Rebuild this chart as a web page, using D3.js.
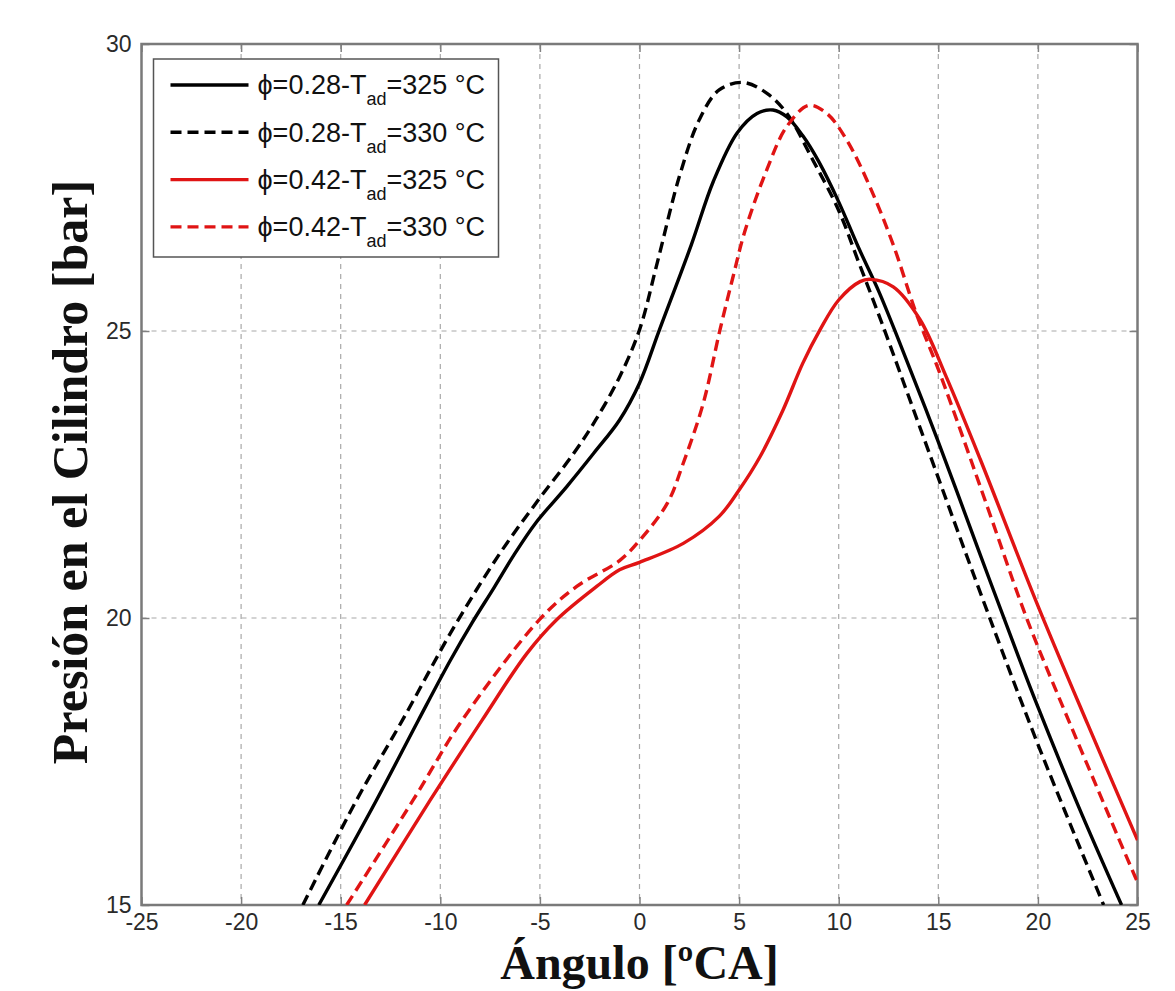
<!DOCTYPE html>
<html>
<head>
<meta charset="utf-8">
<script src="https://cdn.jsdelivr.net/npm/d3@7"></script>
<style>
  body { margin: 0; background: #fff; }
  svg { display: block; }
</style>
</head>
<body>
<div id="chart"></div>
<script>
// valores: ángulo [ºCA] -> presión [bar]
const phi028_T325 = [
  [-16.1, 15.0], [-13.2, 16.83], [-11.1, 18.22], [-9.5, 19.26], [-8.4, 19.92],
  [-7.3, 20.53], [-6.3, 21.1], [-5.2, 21.66], [-3.65, 22.29], [-2.3, 22.87],
  [-1.0, 23.45], [0, 24.09], [1.0, 25.02], [2.6, 26.5], [3.7, 27.6],
  [4.9, 28.45], [5.9, 28.79], [6.7, 28.85], [7.4, 28.73], [8.2, 28.4],
  [9.0, 27.95], [10.0, 27.25], [11.0, 26.45], [12.0, 25.7], [13.0, 24.85],
  [15.0, 23.07], [17.0, 21.2], [18.9, 19.44], [20.0, 18.45], [22.0, 16.75],
  [24.2, 15.0]
];
const phi028_T330 = [
  [-16.9, 15.0], [-14.2, 16.83], [-11.9, 18.22], [-9.3, 19.85], [-7.0, 21.13],
  [-5.2, 22.0], [-3.3, 22.87], [-2.2, 23.45], [-1.0, 24.2], [0, 25.02],
  [0.9, 26.2], [2.0, 27.69], [3.0, 28.68], [4.0, 29.2], [5.2, 29.33],
  [6.4, 29.14], [7.4, 28.79], [8.7, 27.98], [10.0, 27.1], [11.0, 26.2],
  [12.1, 25.2], [14.1, 23.3], [17.25, 20.31], [20.0, 17.8], [23.3, 15.0]
];
const phi042_T325 = [
  [-13.8, 15.0], [-10.5, 16.83], [-7.9, 18.22], [-5.66, 19.38], [-4.16, 19.97],
  [-2.15, 20.55], [-1.0, 20.84], [0, 20.97], [2.2, 21.3], [4.0, 21.77],
  [5.0, 22.23], [6.05, 22.81], [7.2, 23.62], [8.2, 24.44], [9.06, 25.02],
  [10.0, 25.54], [11.07, 25.86], [11.6, 25.9], [12.74, 25.77], [14.08, 25.2],
  [15.4, 24.2], [17.1, 22.77], [19.9, 20.3], [22.5, 18.15], [25.0, 16.13]
];
const phi042_T330 = [
  [-14.7, 15.0], [-11.36, 16.83], [-8.9, 18.22], [-5.0, 19.98], [-3.15, 20.55],
  [-1.0, 21.0], [0, 21.35], [1.4, 22.0], [2.2, 22.7], [3.2, 23.74],
  [4.04, 25.02], [4.7, 25.95], [5.3, 26.75], [6.38, 27.8], [7.39, 28.56],
  [8.5, 28.93], [9.4, 28.79], [10.4, 28.33], [11.57, 27.51], [12.74, 26.5],
  [13.9, 25.3], [15.08, 24.26], [17.5, 21.9], [19.1, 20.31], [20.0, 19.5],
  [24.87, 15.5], [25.0, 15.4]
];

const xTicks = [-25, -20, -15, -10, -5, 0, 5, 10, 15, 20, 25];
const yTicks = [15, 20, 25, 30];

const seriesNames = ['0.28', '0.28', '0.42', '0.42'];
const seriesTemps = ['325', '330', '325', '330'];
const seriesColors = ['#000000', '#000000', '#e01414', '#e01414'];
const seriesDashed = [false, true, false, true];
const seriesData = [phi028_T325, phi028_T330, phi042_T325, phi042_T330];

const width = 1175;
const height = 991;
const margin = { top: 44, right: 37.5, bottom: 86, left: 141.5 };
const innerW = width - margin.left - margin.right;
const innerH = height - margin.top - margin.bottom;

const svg = d3.select('#chart').append('svg')
  .attr('width', width)
  .attr('height', height);

const x = d3.scaleLinear().domain([-25, 25]).range([0, innerW]);
const y = d3.scaleLinear().domain([15, 30]).range([innerH, 0]);

const g = svg.append('g').attr('transform', `translate(${margin.left},${margin.top})`);

svg.append('defs').append('clipPath').attr('id', 'clip')
  .append('rect').attr('width', innerW).attr('height', innerH);

// rejilla
g.append('g').selectAll('line.vgrid')
  .data(xTicks.slice(1, -1))
  .enter().append('line')
  .attr('class', 'vgrid')
  .attr('x1', d => x(d)).attr('x2', d => x(d))
  .attr('y1', 0).attr('y2', innerH)
  .attr('stroke', '#a8a8a8').attr('stroke-width', 1.2)
  .attr('stroke-dasharray', '5,5');

g.append('g').selectAll('line.hgrid')
  .data(yTicks.slice(1, -1))
  .enter().append('line')
  .attr('class', 'hgrid')
  .attr('x1', 0).attr('x2', innerW)
  .attr('y1', d => y(d)).attr('y2', d => y(d))
  .attr('stroke', '#a8a8a8').attr('stroke-width', 1.2)
  .attr('stroke-dasharray', '5,5');

// ejes (guion normal en los negativos, como en la figura)
const tickFont = '"Liberation Sans", Arial, sans-serif';
const fmt = d => String(d);

const xAxis = g.append('g')
  .attr('transform', `translate(0,${innerH})`)
  .call(d3.axisBottom(x).tickValues(xTicks).tickFormat(fmt).tickSizeInner(-8).tickSizeOuter(0).tickPadding(9));
const xAxisTop = g.append('g')
  .call(d3.axisTop(x).tickValues(xTicks).tickSizeInner(-8).tickSizeOuter(0).tickFormat(''));
const yAxis = g.append('g')
  .call(d3.axisLeft(y).tickValues(yTicks).tickFormat(fmt).tickSizeInner(-8).tickSizeOuter(0).tickPadding(10));
const yAxisRight = g.append('g')
  .attr('transform', `translate(${innerW},0)`)
  .call(d3.axisRight(y).tickValues(yTicks).tickSizeInner(-8).tickSizeOuter(0).tickFormat(''));

[xAxis, xAxisTop, yAxis, yAxisRight].forEach(a => {
  a.select('.domain').remove();
  a.selectAll('line').attr('stroke', '#808080').attr('stroke-width', 1.5);
  a.selectAll('text')
    .attr('font-family', tickFont)
    .attr('font-size', 23)
    .attr('fill', '#2a2a2a');
});

g.append('rect')
  .attr('width', innerW).attr('height', innerH)
  .attr('fill', 'none')
  .attr('stroke', '#7a7a7a').attr('stroke-width', 2.5);

// curvas
const line = d3.line()
  .x(d => x(d[0]))
  .y(d => y(d[1]))
  .curve(d3.curveCatmullRom.alpha(0.5));

g.append('g').attr('clip-path', 'url(#clip)')
  .selectAll('path')
  .data(seriesData)
  .enter().append('path')
  .attr('d', line)
  .attr('fill', 'none')
  .attr('stroke', (d, i) => seriesColors[i])
  .attr('stroke-width', 3.4)
  .attr('stroke-dasharray', (d, i) => seriesDashed[i] ? '11,6' : null);

// leyenda
const leg = g.append('g').attr('transform', 'translate(12,15)');
leg.append('rect')
  .attr('width', 345).attr('height', 198)
  .attr('fill', '#fff')
  .attr('stroke', '#555').attr('stroke-width', 1.5);

const rows = leg.selectAll('g.row')
  .data(seriesNames)
  .enter().append('g')
  .attr('class', 'row')
  .attr('transform', (d, i) => `translate(0,${26 + i * 47.3})`);

rows.append('line')
  .attr('x1', 17).attr('x2', 95)
  .attr('y1', 0).attr('y2', 0)
  .attr('stroke', (d, i) => seriesColors[i])
  .attr('stroke-width', 3.4)
  .attr('stroke-dasharray', (d, i) => seriesDashed[i] ? '11,6' : null);

const lt = rows.append('text')
  .attr('x', 104).attr('y', 0).attr('dy', '0.35em')
  .attr('font-family', tickFont)
  .attr('font-size', 27)
  .attr('fill', '#111');
lt.append('tspan').text(d => `ϕ=${d}-T`);
lt.append('tspan').attr('font-size', 18).attr('dy', 11).text('ad');
lt.append('tspan').attr('dy', -11).text((d, i) => `=${seriesTemps[i]} °C`);

// títulos
svg.append('text')
  .attr('x', margin.left + x(0))
  .attr('y', 979)
  .attr('text-anchor', 'middle')
  .attr('font-family', '"Liberation Serif", "Times New Roman", serif')
  .attr('font-weight', 'bold')
  .attr('font-size', 48)
  .attr('fill', '#111')
  .text('Ángulo [ºCA]');

svg.append('text')
  .attr('transform', `translate(87,472) rotate(-90)`)
  .attr('text-anchor', 'middle')
  .attr('font-family', '"Liberation Serif", "Times New Roman", serif')
  .attr('font-weight', 'bold')
  .attr('font-size', 50)
  .attr('fill', '#111')
  .text('Presión en el Cilindro [bar]');
</script>
</body>
</html>
